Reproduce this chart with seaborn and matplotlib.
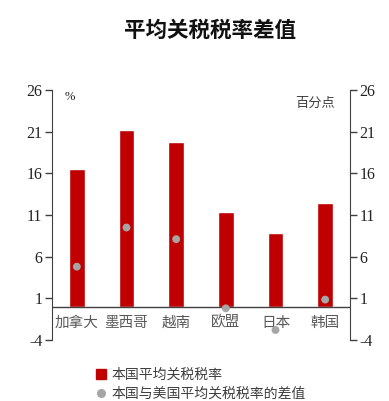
import matplotlib
matplotlib.use("Agg")
import matplotlib.pyplot as plt
import seaborn as sns
import pandas as pd

categories = ["加拿大", "墨西哥", "越南", "欧盟", "日本", "韩国"]
avg_tariff = [16.5, 21.2, 19.8, 11.4, 8.8, 12.5]
diff_vs_us = [4.8, 9.5, 8.1, -0.2, -2.8, 0.85]
yticks = [-4, 1, 6, 11, 16, 21, 26]

sns.set_style("white")
plt.rcParams['font.family'] = ['Noto Sans CJK SC', 'DejaVu Sans']

df = pd.DataFrame({"cat": categories, "tariff": avg_tariff, "diff": diff_vs_us})

fig = plt.figure(figsize=(3.89, 4.01), dpi=100)
ax = fig.add_axes([52/389, 1-340/401, (350-52)/389, 250/401])

red = "#C00000"
gray = "#A6A6A6"
sns.barplot(data=df, x="cat", y="tariff", color=red, width=0.32, ax=ax,
            saturation=1, zorder=2)
ax.axhline(0, color="#404040", lw=1.0, zorder=3)
sns.scatterplot(data=df, x="cat", y="diff", color=gray, s=32, edgecolor="none",
                ax=ax, zorder=4, clip_on=False)

ax.set_xlim(-0.5, 5.5)
ax.set_ylim(-4, 26)
ax.set_yticks(yticks)
ax.set_yticklabels([str(t) for t in yticks], family="Liberation Serif",
                   fontsize=11.5, color="#222222")
ax.set_xlabel("")
ax.set_ylabel("")
ax.set_xticks([])
for s in ["top", "bottom", "right"]:
    ax.spines[s].set_visible(False)
ax.spines["left"].set_color("#404040")
ax.tick_params(axis="y", direction="out", length=5, width=1, color="#404040", left=True, pad=2)

for i, c in enumerate(categories):
    ax.text(i, -1.9, c, ha="center", va="center", fontsize=10.5, color="#595959")

ax2 = ax.twinx()
ax2.set_ylim(-4, 26)
ax2.set_yticks(yticks)
ax2.set_yticklabels([str(t) for t in yticks], family="Liberation Serif",
                    fontsize=11.5, color="#222222")
for s in ["top", "bottom", "left"]:
    ax2.spines[s].set_visible(False)
ax2.spines["right"].set_color("#404040")
ax2.tick_params(axis="y", direction="out", length=5, width=1, color="#404040", right=True, pad=2)

fig.text(70/389, 1-97/401, "%", ha="center", va="center", fontsize=9,
         family="Liberation Serif", color="#222222")
fig.text(315/389, 1-103/401, "百分点", ha="center", va="center", fontsize=9.5,
         color="#404040")

fig.text(210/389, 1-30/401, "平均关税税率差值", ha="center", va="center",
         fontsize=15.5, fontweight="bold", color="#111111")

# legend
from matplotlib.lines import Line2D
handles = [Line2D([], [], marker="s", ls="", color=red, markersize=7),
           Line2D([], [], marker="o", ls="", color=gray, markersize=5.5)]
leg = fig.legend(handles, ["本国平均关税税率", "本国与美国平均关税税率的差值"],
                 loc="upper left", bbox_to_anchor=(88/389, 1-362/401),
                 frameon=False, fontsize=10, handletextpad=0.3,
                 labelspacing=0.4, handlelength=1.0, borderaxespad=0)
for t in leg.get_texts():
    t.set_color("#404040")

fig.savefig("out.png", dpi=100)
